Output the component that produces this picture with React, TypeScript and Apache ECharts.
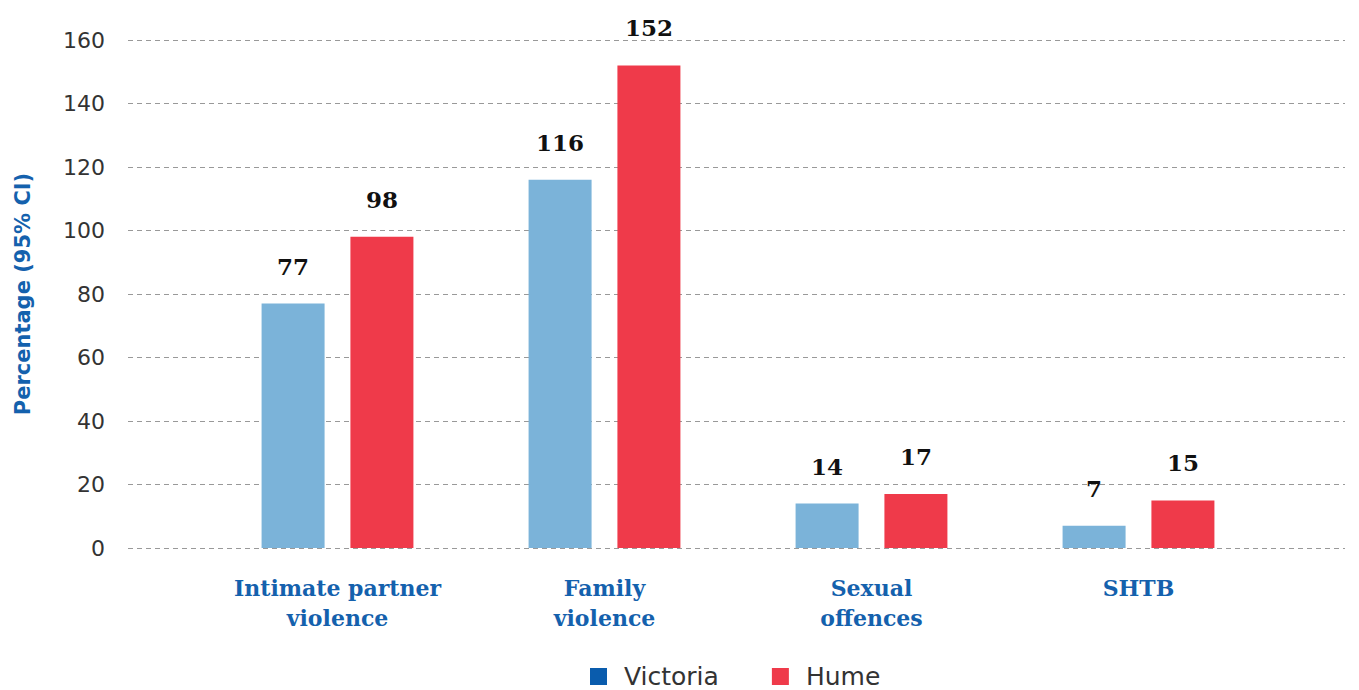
import React, { useEffect, useRef } from "react";
import * as echarts from "echarts";

const categories = ["Intimate partner\nviolence", "Family\nviolence", "Sexual\noffences", "SHTB"];
const victoria = [77, 116, 14, 7];
const hume = [98, 152, 17, 15];
const yTicks = { min: 0, max: 160, interval: 20 };

export default function App() {
  const ref = useRef<HTMLDivElement>(null);
  useEffect(() => {
    document.body.style.margin = "0";
    const chart = echarts.init(ref.current!, null, { renderer: "svg" });
    const labelStyle = {
      show: true,
      position: "top" as const,
      distance: 26,
      fontFamily: "DejaVu Serif",
      fontWeight: "bold" as const,
      fontSize: 23,
      color: "#111",
    };
    chart.setOption({
      animation: false,
      backgroundColor: "#fff",
      legend: {
        top: 664,
        left: 590,
        padding: 0,
        itemWidth: 17,
        itemHeight: 17,
        itemGap: 53,
        icon: "rect",
        textStyle: { fontFamily: "DejaVu Sans", fontSize: 25, lineHeight: 17, color: "#333", padding: [0, 0, 0, 12] },
        data: [
          { name: "Victoria", itemStyle: { color: "#0a5cad" } },
          { name: "Hume", itemStyle: { color: "#ef3a4a" } },
        ],
      },
      grid: [
        { left: 128, right: 14, top: 40, bottom: 142 },
        { left: 204, right: 87, top: 40, bottom: 142 },
      ],
      xAxis: [
        { type: "category", gridIndex: 0, data: ["a"], show: false },
        {
          type: "category",
          gridIndex: 1,
          data: categories,
          axisLine: { show: false },
          axisTick: { show: false },
          axisLabel: {
            interval: 0,
            margin: 25,
            fontFamily: "DejaVu Serif",
            fontWeight: "bold",
            fontSize: 22,
            lineHeight: 30,
            color: "#1461ad",
          },
        },
      ],
      yAxis: [
        {
          type: "value",
          gridIndex: 0,
          min: yTicks.min,
          max: yTicks.max,
          interval: yTicks.interval,
          name: "Percentage (95% CI)",
          nameLocation: "middle",
          nameGap: 95,
          nameTextStyle: { fontFamily: "DejaVu Sans", fontWeight: "bold", fontSize: 21, color: "#1461ad" },
          axisLine: { show: false },
          axisTick: { show: false },
          axisLabel: { margin: 23, fontFamily: "DejaVu Sans", fontSize: 22, color: "#333" },
          splitLine: { show: true, lineStyle: { color: "#999", type: [5, 4], width: 1 } },
        },
        { type: "value", gridIndex: 1, min: yTicks.min, max: yTicks.max, interval: yTicks.interval, show: false, splitLine: { show: false } },
      ],
      series: [
        {
          name: "Victoria",
          type: "bar",
          xAxisIndex: 1,
          yAxisIndex: 1,
          data: victoria,
          barWidth: 63,
          barGap: "41%",
          itemStyle: { color: "#7bb3d9" },
          label: labelStyle,
        },
        {
          name: "Hume",
          type: "bar",
          xAxisIndex: 1,
          yAxisIndex: 1,
          data: hume,
          barWidth: 63,
          barGap: "41%",
          itemStyle: { color: "#ef3a4a" },
          label: labelStyle,
        },
      ],
    });
    return () => chart.dispose();
  }, []);
  return <div ref={ref} style={{ width: 1359, height: 690 }} />;
}
